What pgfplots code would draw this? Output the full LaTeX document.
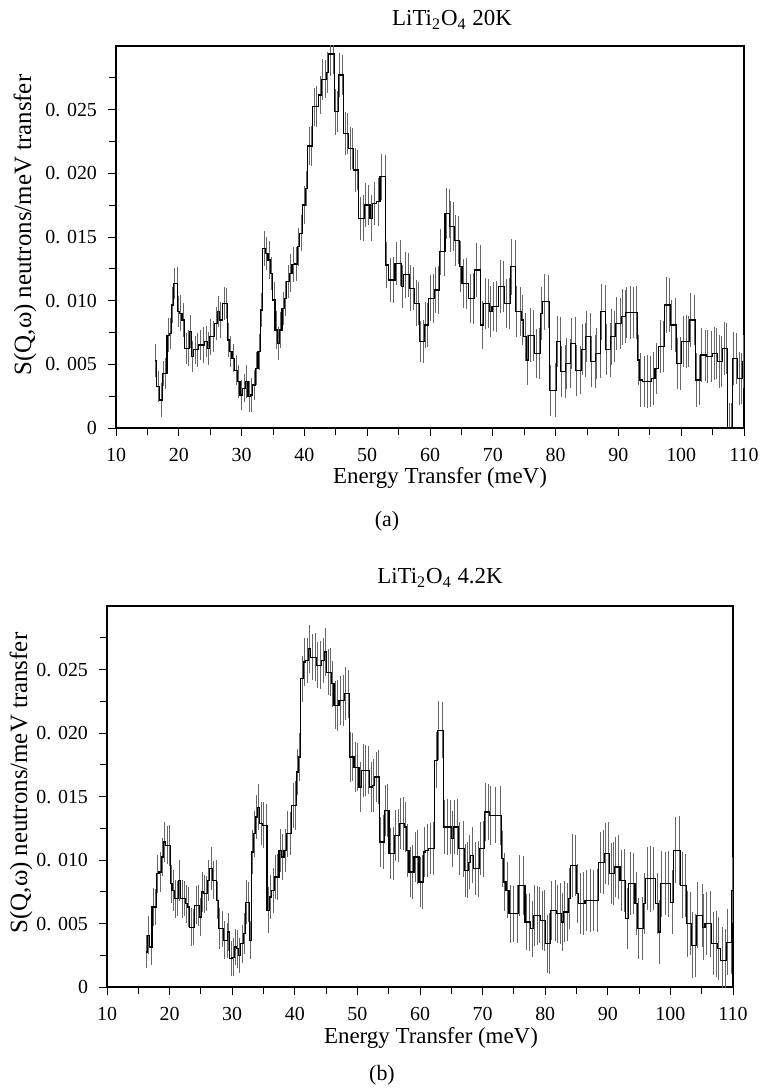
\documentclass[border=0pt]{standalone}
\usepackage{fontspec}
\setmainfont{Liberation Serif}
\usepackage{pgfplots}
\usepackage{pgfplotstable}
\pgfplotsset{compat=1.18}

% values of S in units of 0.001 neutrons/meV
\pgfplotstableread{
x v e
16.21 5.29 1.3
16.74 3.25 1.2
17.17 2.20 1.3
17.54 4.29 1.0
17.91 4.29 1.2
18.33 7.30 1.3
18.70 7.43 1.2
19.02 9.66 1.4
19.24 11.36 1.2
19.77 11.36 1.3
19.93 9.14 1.2
20.30 9.01 1.4
20.72 8.48 1.3
21.15 6.26 1.2
21.52 6.26 1.4
21.89 7.57 1.3
22.21 5.60 1.2
22.58 6.13 1.1
22.95 6.13 1.3
23.38 6.52 1.2
23.91 6.52 1.4
24.33 6.78 1.2
24.70 6.26 1.3
25.07 7.17 1.4
25.50 7.17 1.2
25.92 8.22 1.3
26.29 9.14 1.2
26.67 8.48 1.4
27.20 9.79 1.3
27.62 9.79 1.2
27.89 6.91 1.3
28.26 5.99 1.2
28.68 5.47 1.1
29.11 4.55 1.2
29.48 3.64 1.3
30.01 2.59 1.2
30.38 3.12 1.1
30.81 3.64 1.3
31.23 2.46 1.2
31.60 2.59 1.3
31.97 3.38 1.2
32.40 4.69 1.3
32.82 5.99 1.4
33.19 9.27 1.3
33.57 14.11 1.4
33.99 13.72 1.3
34.42 13.19 1.5
34.79 12.15 1.3
35.16 10.05 1.4
35.48 7.70 1.5
35.85 6.65 1.3
36.22 7.70 1.4
36.65 9.40 1.3
36.96 10.18 1.4
37.39 11.49 1.3
37.81 12.15 1.5
38.24 12.85 1.4
38.66 12.88 1.3
39.03 14.24 1.5
39.46 15.29 1.4
39.94 17.51 1.5
40.36 18.82 1.4
40.73 22.15 1.5
41.16 22.15 1.6
41.53 25.24 1.5
41.95 25.24 1.6
42.48 26.15 1.5
42.91 27.38 1.6
43.28 27.38 1.5
43.70 27.90 1.6
44.08 29.37 1.7
44.61 29.37 1.6
44.87 24.84 1.8
45.24 24.84 1.6
45.56 27.72 1.7
46.09 27.72 1.6
46.46 23.14 1.7
46.89 23.14 1.6
47.26 21.96 1.7
47.69 21.96 1.6
48.06 20.26 1.7
48.48 20.26 1.6
48.85 16.47 1.7
49.38 16.47 1.8
49.76 17.51 1.7
50.18 17.51 1.6
50.71 16.47 1.8
51.08 17.64 1.7
51.77 17.77 1.9
52.30 19.74 1.8
52.83 19.74 1.7
53.10 12.80 1.8
53.63 11.62 1.7
54.16 11.62 1.8
54.69 12.93 1.7
55.22 12.93 1.8
55.59 11.10 1.7
56.02 12.02 1.8
56.55 12.02 1.7
56.92 10.97 1.8
57.35 10.97 1.7
57.77 9.79 1.8
58.14 9.79 1.7
58.51 6.78 1.6
58.94 6.78 1.7
59.20 8.09 1.8
59.57 8.09 1.7
59.99 10.18 1.8
60.52 10.18 1.9
60.79 10.84 1.8
61.32 10.84 1.9
61.69 13.85 1.8
62.22 13.85 1.9
62.54 16.86 2.0
63.07 16.86 1.9
63.28 15.81 2.0
63.71 15.81 1.9
63.97 14.76 2.0
64.50 14.76 1.9
64.88 12.67 2.0
65.30 11.36 1.9
65.83 11.36 2.0
66.36 10.18 1.9
66.89 10.18 2.0
67.32 12.41 2.1
67.95 12.41 2.0
68.27 8.09 1.9
68.75 9.79 2.0
69.28 9.79 1.9
69.65 9.14 2.0
70.08 9.53 1.9
70.61 9.53 2.0
71.14 11.10 2.1
71.67 11.10 2.0
72.09 9.79 1.9
72.63 9.79 2.0
72.89 12.67 2.2
73.53 12.67 2.1
73.79 9.14 2.0
74.32 9.14 1.9
74.75 8.48 2.0
75.12 7.17 1.9
75.49 5.34 2.0
75.92 7.30 2.1
76.45 7.30 2.0
76.87 5.86 1.9
77.40 5.86 2.0
77.77 9.01 2.1
78.15 9.92 2.2
78.84 9.92 2.1
79.21 2.98 2.0
79.90 2.98 2.1
80.27 6.78 2.0
80.69 6.78 1.9
80.96 4.42 2.0
81.49 4.42 2.1
81.75 5.08 2.0
82.29 5.08 1.9
82.55 6.65 2.0
83.08 6.65 2.1
83.35 4.55 2.0
83.98 4.55 1.9
84.25 6.13 2.0
84.67 6.13 2.1
84.94 7.17 2.0
85.47 7.17 1.9
85.74 5.21 2.0
86.27 5.21 2.1
86.53 5.86 2.0
87.06 5.86 1.9
87.33 9.14 2.2
87.86 9.14 2.1
88.12 6.13 2.0
88.65 6.13 2.1
88.92 7.17 2.2
89.34 7.17 2.0
89.72 8.22 2.1
90.25 8.22 2.0
90.62 8.74 2.2
91.04 8.74 2.1
91.31 9.06 2.0
91.84 9.06 2.1
92.37 9.06 2.0
92.90 9.06 2.1
93.17 5.34 2.0
93.54 3.77 2.1
94.07 3.64 2.0
94.60 3.64 2.1
95.02 3.64 2.0
95.55 3.90 2.1
96.09 4.69 2.0
96.62 6.39 2.1
97.15 6.39 2.0
97.57 9.66 2.2
98.10 9.66 2.1
98.47 8.09 2.0
99.00 8.09 2.1
99.38 5.08 2.0
99.80 5.08 2.1
100.33 6.78 2.0
100.76 6.78 2.1
101.13 6.78 2.0
101.50 8.48 2.1
102.03 8.48 2.0
102.46 3.77 2.1
102.88 3.77 2.0
103.25 5.73 2.1
103.78 5.73 2.0
104.15 5.60 2.1
104.84 5.60 2.0
105.21 5.86 2.1
105.64 5.86 2.0
106.01 5.21 2.1
106.44 5.21 2.0
106.81 6.26 2.1
107.23 6.26 2.0
107.60 0.00 2.0
108.03 0.00 2.0
108.29 5.47 2.1
108.82 5.47 2.0
109.20 3.90 2.1
109.62 3.90 2.0
109.89 5.21 2.1
}\toptable

\pgfplotstableread{
x v e
16.28 2.76 1.3
16.66 4.07 1.5
17.03 3.15 1.4
17.35 6.30 1.5
17.72 6.30 1.4
18.09 8.92 1.5
18.52 9.06 1.6
18.89 10.24 1.5
19.21 11.42 1.6
19.58 11.15 1.5
19.96 11.15 1.6
20.22 8.14 1.5
20.54 7.61 1.6
20.92 6.96 1.5
21.29 6.96 1.4
21.61 8.40 1.6
21.98 6.96 1.5
22.35 6.96 1.4
22.67 6.56 1.5
23.05 6.30 1.6
23.42 4.72 1.5
23.84 4.72 1.4
24.22 6.43 1.5
24.64 6.43 1.6
24.91 5.51 1.5
25.18 7.48 1.6
25.55 7.35 1.5
25.87 7.35 1.4
26.24 8.40 1.6
26.61 9.32 1.7
27.04 8.40 1.5
27.41 8.40 1.6
27.68 6.82 1.5
28.00 4.59 1.6
28.37 4.59 1.4
28.74 3.67 1.5
29.17 3.67 1.4
29.44 4.33 1.5
29.81 2.23 1.4
30.13 2.36 1.5
30.50 3.15 1.4
30.87 3.02 1.5
31.19 2.49 1.4
31.57 3.41 1.5
31.94 4.20 1.6
32.26 6.69 1.7
32.63 6.69 1.6
32.90 3.67 1.5
33.16 10.63 1.7
33.54 12.07 1.8
33.86 13.39 1.7
34.23 14.17 1.8
34.60 12.86 1.7
35.03 12.73 1.8
35.40 12.73 1.7
35.72 6.04 1.8
36.09 7.09 1.7
36.52 7.61 1.8
36.89 8.66 1.7
37.26 8.66 1.8
37.69 10.76 1.7
38.06 10.24 1.8
38.49 10.76 1.7
38.86 12.07 1.8
39.29 12.07 1.7
39.71 14.30 1.8
40.09 14.30 1.9
40.35 16.93 1.8
40.78 18.11 1.9
41.15 24.28 1.8
41.52 25.59 1.9
41.95 25.72 1.8
42.32 26.64 1.9
42.75 25.98 1.8
43.28 25.98 1.9
43.65 25.33 1.8
44.08 25.33 1.9
44.50 25.72 1.8
44.88 26.38 1.9
45.30 24.80 1.8
45.68 24.80 1.9
46.05 23.88 1.8
46.47 22.18 1.9
46.85 22.18 2.0
47.27 22.57 1.9
47.70 22.57 2.0
48.07 23.10 2.1
48.60 23.10 1.9
48.87 18.11 2.0
49.24 18.11 1.9
49.67 17.32 2.0
50.04 17.32 1.9
50.47 15.75 2.0
50.89 17.06 2.1
51.27 17.06 2.0
51.80 17.06 1.9
52.17 15.75 2.0
52.60 15.88 2.1
52.97 16.54 2.0
53.40 16.54 2.1
53.66 11.42 2.0
54.09 11.42 2.1
54.46 13.91 2.0
54.83 13.91 2.1
55.26 10.50 2.0
55.69 10.50 2.1
56.06 11.94 2.0
56.49 11.94 2.1
56.86 12.86 2.0
57.28 12.86 2.1
57.66 12.60 2.0
58.03 10.76 2.1
58.46 9.06 2.0
58.83 9.06 2.1
59.26 10.24 2.0
59.63 10.24 2.1
60.05 8.27 2.0
60.43 8.27 2.1
60.69 10.63 2.0
61.11 10.76 2.1
61.65 10.89 2.0
62.18 10.89 2.1
62.55 17.85 2.2
62.98 20.21 2.3
63.51 20.21 2.2
63.88 12.60 2.1
64.31 12.60 2.2
64.84 12.60 2.1
65.11 11.68 2.2
65.48 12.60 2.1
66.01 12.60 2.2
66.33 10.89 2.1
66.87 10.89 2.2
67.24 9.19 2.1
67.61 9.19 2.2
67.93 9.84 2.1
68.30 10.37 2.2
68.84 9.32 2.1
69.37 9.32 2.2
69.63 10.89 2.1
70.06 10.89 2.2
70.43 13.78 2.3
70.97 13.78 2.2
71.23 13.52 2.3
72.03 13.52 2.2
72.83 13.52 2.3
73.10 10.10 2.2
73.47 8.27 2.3
74.00 7.61 2.2
74.43 5.77 2.3
74.96 5.77 2.2
75.49 5.77 2.3
75.92 8.01 2.4
76.56 8.01 2.3
76.98 5.12 2.2
77.52 5.12 2.3
77.89 4.59 2.2
78.26 5.64 2.4
78.69 5.64 2.3
79.11 5.64 2.2
79.49 5.25 2.3
79.86 5.25 2.4
80.28 3.41 2.3
80.71 3.41 2.4
80.98 6.04 2.3
81.62 6.04 2.4
81.99 5.77 2.3
82.41 5.77 2.4
82.68 5.12 2.3
83.05 5.91 2.4
83.48 5.91 2.3
83.90 6.96 2.4
84.28 9.58 2.5
84.81 9.58 2.4
85.08 7.35 2.3
85.61 6.56 2.4
86.14 6.56 2.5
86.57 6.82 2.4
87.21 6.82 2.5
87.74 6.82 2.4
88.27 6.82 2.5
88.80 9.84 2.4
89.34 9.84 2.5
89.60 10.50 2.4
90.13 10.50 2.5
90.51 8.92 2.4
90.93 8.92 2.5
91.20 9.45 2.4
91.73 9.45 2.5
92.16 8.40 2.4
92.64 8.40 2.5
93.06 5.38 2.4
93.60 8.14 2.5
94.13 8.14 2.4
94.55 6.56 2.5
94.93 4.59 2.4
95.46 4.59 2.5
95.83 6.56 2.4
96.26 8.53 2.5
96.79 8.53 2.6
97.32 8.53 2.5
97.86 6.56 2.4
98.28 4.33 2.5
98.49 8.14 2.6
99.19 8.14 2.5
99.72 8.14 2.6
100.25 6.69 2.5
100.78 10.76 2.6
101.48 10.76 2.7
101.85 8.01 2.6
102.38 8.01 2.5
102.76 4.99 2.6
103.18 4.99 2.5
103.45 3.28 2.6
103.98 3.28 2.5
104.35 5.64 2.6
105.04 5.64 2.5
105.31 4.72 2.6
105.74 4.99 2.5
106.37 4.99 2.6
106.80 3.41 2.5
107.33 3.41 2.6
107.71 3.02 2.5
108.24 2.10 2.6
108.77 2.10 2.5
109.14 3.54 2.6
109.68 3.54 2.5
109.95 7.61 2.6
}\bottable

\pgfplotsset{
  neutronaxis/.style={
    scale only axis,
    xmin=10, xmax=110, ymin=0, ymax=0.030,
    xtick={10,20,30,40,50,60,70,80,90,100,110},
    minor xtick={15,25,35,45,55,65,75,85,95,105},
    ytick={0,0.005,0.01,0.015,0.02,0.025},
    yticklabels={0,0. 005,0. 010,0. 015,0. 020,0. 025},
    minor ytick={0.0025,0.0075,0.0125,0.0175,0.0225,0.0275},
    scaled y ticks=false,
    tick align=outside,
    xtick pos=bottom, ytick pos=left,
    major tick length=4bp, minor tick length=3.5bp,
    axis line style={line width=0.6pt},
    every tick/.style={black, line width=0.5pt},
    tick label style={font=\fontsize{10}{12}\selectfont},
    /pgf/number format/assume math mode=true,
    xticklabel style={yshift=-2.5bp},
    yticklabel style={xshift=-2bp},
  },
  errstyle/.style={
    only marks, mark=*, mark size=0pt,
    mark options={draw=none, fill=none},
    error bars/.cd, y dir=both, y explicit, error mark=none,
    error bar style={line width=0.4pt, black!60},
  },
  stepstyle/.style={const plot mark mid, black, line width=0.55pt, mark=none},
}

\begin{document}
\begin{tikzpicture}[x=1bp,y=1bp]
\path[use as bounding box] (0,0) rectangle (381,-545.5);

% ---------------- (a) ----------------
\begin{axis}[neutronaxis, at={(58bp,-214bp)}, anchor=south west,
  width=314bp, height=191bp]
\addplot[errstyle] table[x=x, y expr=\thisrow{v}/1000, y error expr=\thisrow{e}/1000]{\toptable};
\addplot[stepstyle] table[x=x, y expr=\thisrow{v}/1000]{\toptable};
\end{axis}
\node[font=\fontsize{11.5}{13}\selectfont] at (226,-10) {LiTi\textsubscript{2}O\textsubscript{4} 20K};
\node[font=\fontsize{11.5}{13}\selectfont] at (220,-239) {Energy Transfer (meV)};
\node[font=\fontsize{11}{13}\selectfont] at (193.5,-260.5) {(a)};
\node[font=\fontsize{12.5}{14}\selectfont, rotate=90] at (12.5,-112.5) {S(Q,ω) neutrons/meV transfer};

% ---------------- (b) ----------------
\begin{axis}[neutronaxis, at={(53.5bp,-493.5bp)}, anchor=south west,
  width=313bp, height=190.5bp]
\addplot[errstyle] table[x=x, y expr=\thisrow{v}/1000, y error expr=\thisrow{e}/1000]{\bottable};
\addplot[stepstyle] table[x=x, y expr=\thisrow{v}/1000]{\bottable};
\end{axis}
\node[font=\fontsize{11.5}{13}\selectfont] at (220,-289) {LiTi\textsubscript{2}O\textsubscript{4} 4.2K};
\node[font=\fontsize{11.5}{13}\selectfont] at (215.5,-519) {Energy Transfer (meV)};
\node[font=\fontsize{11}{13}\selectfont] at (191,-537.5) {(b)};
\node[font=\fontsize{12.5}{14}\selectfont, rotate=90] at (10.5,-391.5) {S(Q,ω) neutrons/meV transfer};
\end{tikzpicture}
\end{document}
